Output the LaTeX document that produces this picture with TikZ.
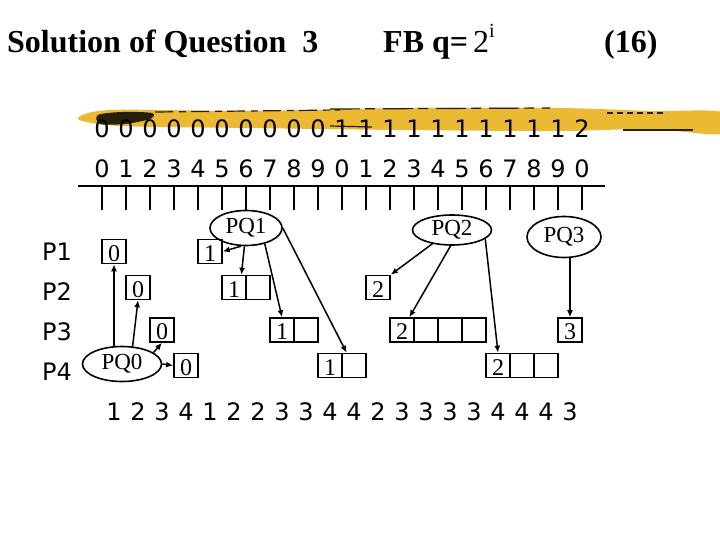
\documentclass[tikz,border=0pt]{standalone}
\usepackage{fontspec}
\setmainfont{Liberation Serif}
\newfontfamily\vsans{DejaVu Sans}
\usepackage{xcolor}
\usepackage{tikz}
\usetikzlibrary{shapes.geometric, arrows.meta, positioning, calc}
\definecolor{brushyellow}{RGB}{236, 186, 50}
\definecolor{brushdark}{RGB}{40, 30, 10}
\tikzstyle{cell} = [
    rectangle,
    draw,
    line width=1.6pt,
    minimum width=24pt,
    minimum height=24pt,
    inner sep=0pt,
    text height=19pt,
    text depth=0pt,
    font=\fontsize{24}{24}\selectfont
]
\tikzstyle{queue} = [
    ellipse,
    draw,
    line width=1.6pt,
    inner sep=0pt,
    font=\fontsize{23}{23}\selectfont
]
\tikzstyle{arrow} = [
    line width=1.5pt,
    -{Latex[length=7pt, width=6pt]}
]
\tikzstyle{slot} = [anchor=base, inner sep=0pt, font=\vsans\fontsize{24}{24}\selectfont]
\tikzstyle{title} = [anchor=base west, inner sep=0pt, font=\fontsize{32}{32}\selectfont\bfseries]

\begin{document}
\begin{tikzpicture}[x=1pt, y=-1pt]
        \useasboundingbox (0,0) rectangle (720,540);

        % Heading
        \node[title] (head) at (7,53) {Solution of Question\ \ 3};
        \node[title] (rule) at (383,53) {FB q=\kern5pt{\mdseries 2}\raisebox{15pt}{\mdseries\fontsize{20}{20}\selectfont i}};
        \node[title] (mark) at (604,53) {(16)};

        % Brush stroke
        \fill[brushyellow] plot[smooth cycle] coordinates {(78,119) (110,110) (250,111) (400,108) (560,108) (650,111) (722,112) (722,134) (650,129) (560,131) (400,130) (250,128) (120,126)};
        \fill[brushdark] plot[smooth cycle] coordinates {(98,115) (122,112) (152,113) (150,119) (125,124) (100,124)};
        \draw[brushdark, line width=1.2pt, dash pattern=on 18pt off 6pt on 7pt off 5pt] (155,112) -- (340,110);
        \draw[brushdark, line width=1.2pt, dash pattern=on 30pt off 5pt on 10pt off 8pt] (330,109) -- (550,108);
        \draw[brushdark, line width=1.2pt] (330,126) -- (372,127);
        \draw[brushdark, line width=1.2pt, dash pattern=on 6pt off 4pt] (607,113) -- (667,113);
        \draw[brushdark, line width=1.2pt] (623,130) -- (693,130);

        % Time scale
        \foreach \d [count=\k from 0] in {0,0,0,0,0,0,0,0,0,0,1,1,1,1,1,1,1,1,1,1,2}
            \node[slot] at (102+24*\k,138) {\d};
        \foreach \d [count=\k from 0] in {0,1,2,3,4,5,6,7,8,9,0,1,2,3,4,5,6,7,8,9,0}
            \node[slot] at (102+24*\k,178) {\d};
        \draw[line width=1.6pt] (78,186) -- (605,186);
        \foreach \k in {0,...,20}
            \draw[line width=1.6pt] (102+24*\k,186) -- (102+24*\k,210);

        % Processes
        \node[slot, anchor=base west] (P1) at (42,260) {P1};
        \node[slot, anchor=base west] (P2) at (42,300) {P2};
        \node[slot, anchor=base west] (P3) at (42,340) {P3};
        \node[slot, anchor=base west] (P4) at (42,380) {P4};

        % Queues
        \node[queue, minimum width=79pt, minimum height=35pt] (pq0) at (122,364) {PQ0};
        \node[queue, minimum width=72pt, minimum height=35pt] (pq1) at (246,228) {PQ1};
        \node[queue, minimum width=79pt, minimum height=30pt] (pq2) at (452,230) {PQ2};
        \node[queue, minimum width=74pt, minimum height=41pt] (pq3) at (564,237) {PQ3};

        % Quanta, P1
        \node[cell] (p1a) at (114,251.5) {0};
        \node[cell] (p1b) at (210,251.5) {1};
        % Quanta, P2
        \node[cell] (p2a) at (138,287.5) {0};
        \node[cell] (p2b) at (234,287.5) {1};
        \node[cell] (p2bx) at (258,287.5) {};
        \node[cell] (p2c) at (378,287.5) {2};
        % Quanta, P3
        \node[cell] (p3a) at (162,330) {0};
        \node[cell] (p3b) at (282,330) {1};
        \node[cell] (p3bx) at (306,330) {};
        \node[cell] (p3c) at (402,330) {2};
        \foreach \x in {426,450,474}
            \node[cell] at (\x,330) {};
        \node[cell] (p3d) at (570,330) {3};
        % Quanta, P4
        \node[cell] (p4a) at (186,365.5) {0};
        \node[cell] (p4b) at (330,365.5) {1};
        \node[cell] (p4bx) at (354,365.5) {};
        \node[cell] (p4c) at (498,365.5) {2};
        \foreach \x in {522,546}
            \node[cell] at (\x,365.5) {};

        % Arrows
        \draw[arrow] (pq0.north -| p1a.south) -- (p1a.south);
        \draw[arrow] (pq0.59) -- (p2a.south);
        \draw[arrow] (pq0.20) -- (p3a.south);
        \draw[arrow] (pq0.east) -- (p4a.west);
        \draw[arrow] (pq1.255) -- (p1b.east);
        \draw[arrow] (pq1.265) -- (p2b.60);
        \draw[arrow] (pq1.320) -- (p3b.north);
        \draw[arrow] (pq1.east) -- (p4bx.120);
        \draw[arrow] (pq2.215) -- (p2c.north east);
        \draw[arrow] (pq2.265) -- (p3c.60);
        \draw[arrow] (pq2.345) -- (p4c.north);
        \draw[arrow] (pq3.south -| p3d.north) -- (p3d.north);

        % Running process per slot
        \foreach \d [count=\k from 0] in {1,2,3,4,1,2,2,3,3,4,4,2,3,3,3,3,4,4,4,3}
            \node[slot] at (114+24*\k,420) {\d};
    \end{tikzpicture}
\end{document}
